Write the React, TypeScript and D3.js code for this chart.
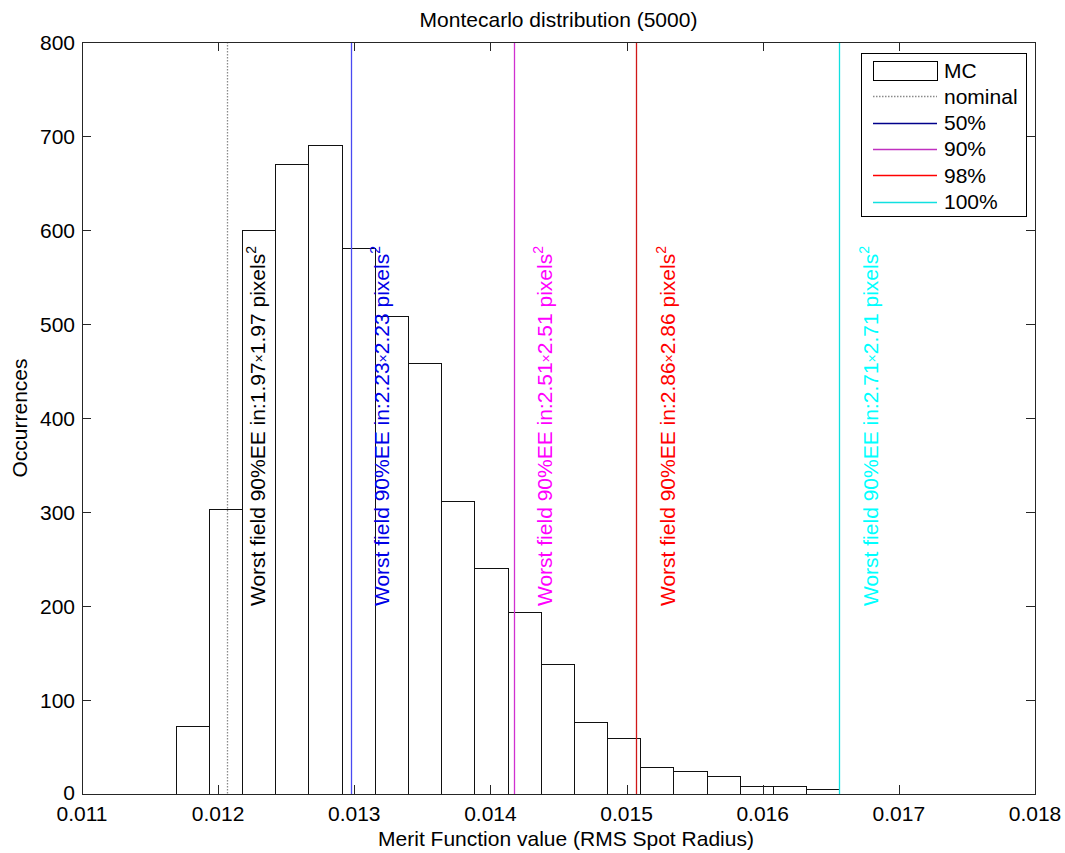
import React from "react";
import * as d3 from "d3";

const counts = [72, 303, 600, 670, 690, 581, 508, 459, 312, 240, 194, 138, 77, 60, 29, 25, 19, 9, 9, 5];
const binMin = 0.011688;
const binMax = 0.016563;

const xTicks = [0.011, 0.012, 0.013, 0.014, 0.015, 0.016, 0.017, 0.018];
const yTicks = [0, 100, 200, 300, 400, 500, 600, 700, 800];

const markerNames = ["nominal", "50%", "90%", "98%", "100%"];
const markerValues = [0.012063, 0.012974, 0.014173, 0.015072, 0.016563];
const markerSizes = ["1.97", "2.23", "2.51", "2.86", "2.71"];
const markerLineColors = ["#8a8a8a", "#4a4af2", "#d030d0", "#d01818", "#10e0e0"];
const markerTextColors = ["#000000", "#0000e6", "#ff00ff", "#ff0000", "#00ffff"];
const legendLineColors = ["#8a8a8a", "#00008b", "#c030c0", "#ff0000", "#10e0e0"];

const W = 1065;
const H = 853;
const FONT = "'Liberation Sans', Arial, Helvetica, sans-serif";
const FS = 21;

export default function App() {
  const x = d3.scaleLinear().domain([0.011, 0.018]).range([82, 1035]);
  const y = d3.scaleLinear().domain([0, 800]).range([794, 42]);
  const binW = (binMax - binMin) / counts.length;
  const bins = counts.map((c, i) => ({ x0: binMin + i * binW, x1: binMin + (i + 1) * binW, c }));
  const [x0, x1] = x.range();
  const [yb, yt] = y.range();
  const tickLen = 9;
  const axisColor = "#262626";
  const px = (v: number) => Math.round(v) + 0.5;

  const legX = 861, legY = 53, legW = 165, legH = 163;
  const rowY = (i: number) => 70 + i * 26.3;

  return (
    <svg width={W} height={H} style={{ position: "absolute", left: 0, top: 0, background: "#fff" }} fontFamily={FONT}>
      <rect x={0} y={0} width={W} height={H} fill="#fff" />
      {/* bars */}
      {bins.map((b, i) => (
        <rect key={i} x={px(x(b.x0))} y={px(y(b.c))} width={Math.round(x(b.x1)) - Math.round(x(b.x0))}
          height={Math.round(y(0)) - Math.round(y(b.c))}
          fill="#fff" stroke="#111" strokeWidth={1} />
      ))}
      {/* marker lines */}
      {markerValues.map((v, i) => (
        <line key={i} x1={px(x(v))} x2={px(x(v))} y1={yt} y2={yb} stroke={markerLineColors[i]} strokeWidth={1.3}
          strokeDasharray={i === 0 ? "1.5,1.5" : undefined} />
      ))}
      {/* marker texts */}
      {markerValues.map((v, i) => (
        <text key={i} transform={`translate(${x(v) + 38.5},${y(200)}) rotate(-90)`} fontSize={FS}
          fill={markerTextColors[i]}>
          {`Worst field 90%EE in:${markerSizes[i]}`}
          <tspan fontSize={14} dy={-1}>{"\u00d7"}</tspan>
          <tspan dy={1}>{`${markerSizes[i]} pixels`}</tspan>
          <tspan fontSize={14} dy={-9}>2</tspan>
        </text>
      ))}
      {/* axes box */}
      <rect x={px(x0)} y={px(yt)} width={Math.round(x1 - x0)} height={Math.round(yb - yt)} fill="none" stroke={axisColor} strokeWidth={1} />
      {xTicks.map((t, i) => (
        <g key={i}>
          <line x1={px(x(t))} x2={px(x(t))} y1={yb} y2={yb - tickLen} stroke={axisColor} />
          <line x1={px(x(t))} x2={px(x(t))} y1={yt} y2={yt + tickLen} stroke={axisColor} />
          <text x={x(t)} y={821} fontSize={FS} textAnchor="middle" fill="#000">{d3.format(".3f")(t)}</text>
        </g>
      ))}
      {yTicks.map((t, i) => (
        <g key={i}>
          <line x1={x0} x2={x0 + tickLen} y1={px(y(t))} y2={px(y(t))} stroke={axisColor} />
          <line x1={x1} x2={x1 - tickLen} y1={px(y(t))} y2={px(y(t))} stroke={axisColor} />
          <text x={75} y={y(t) - (t === 0 ? 2 : 0)} dy="0.36em" fontSize={FS} textAnchor="end" fill="#000">{t}</text>
        </g>
      ))}
      {/* title and labels */}
      <text x={(x0 + x1) / 2} y={27} fontSize={FS} textAnchor="middle" fill="#000">Montecarlo distribution (5000)</text>
      <text x={566} y={846} fontSize={FS} textAnchor="middle" fill="#000">Merit Function value (RMS Spot Radius)</text>
      <text transform={`translate(27,${(yt + yb) / 2}) rotate(-90)`} fontSize={FS} textAnchor="middle" fill="#000">Occurrences</text>
      {/* legend */}
      <rect x={legX + 0.5} y={legY + 0.5} width={legW} height={legH} fill="#fff" stroke="#000" strokeWidth={1} />
      <rect x={873.5} y={Math.round(rowY(0) - 9.5) + 0.5} width={64} height={19} fill="#fff" stroke="#000" strokeWidth={1} />
      <text x={944} y={rowY(0)} dy="0.36em" fontSize={FS} fill="#000">MC</text>
      {markerNames.map((n, i) => (
        <g key={i}>
          <line x1={873} x2={937} y1={px(rowY(i + 1))} y2={px(rowY(i + 1))} stroke={legendLineColors[i]} strokeWidth={1.3}
            strokeDasharray={i === 0 ? "1.5,1.5" : undefined} />
          <text x={944} y={rowY(i + 1)} dy="0.36em" fontSize={FS} fill="#000">{n}</text>
        </g>
      ))}
    </svg>
  );
}
